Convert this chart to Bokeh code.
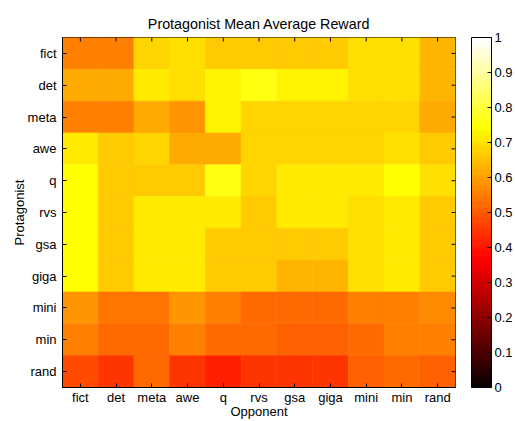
import math
from bokeh.plotting import figure
from bokeh.models import (ColumnDataSource, FactorRange, LinearColorMapper, ColorBar,
                          FixedTicker, CustomJSTickFormatter)
from bokeh.transform import dodge
from bokeh.embed import file_html
from bokeh.resources import INLINE

opponents = ["fict", "det", "meta", "awe", "q", "rvs", "gsa", "giga", "mini", "min", "rand"]
protagonists = ["fict", "det", "meta", "awe", "q", "rvs", "gsa", "giga", "mini", "min", "rand"]

# mean average reward, one list per protagonist (columns follow `opponents`)
reward_fict = [0.56, 0.55, 0.68, 0.69, 0.67, 0.67, 0.67, 0.67, 0.69, 0.69, 0.64]
reward_det  = [0.62, 0.62, 0.71, 0.69, 0.72, 0.75, 0.72, 0.72, 0.69, 0.69, 0.64]
reward_meta = [0.55, 0.55, 0.62, 0.58, 0.72, 0.68, 0.68, 0.68, 0.68, 0.68, 0.62]
reward_awe  = [0.71, 0.66, 0.68, 0.62, 0.61, 0.68, 0.68, 0.68, 0.68, 0.70, 0.67]
reward_q    = [0.74, 0.67, 0.67, 0.67, 0.75, 0.68, 0.71, 0.71, 0.71, 0.74, 0.69]
reward_rvs  = [0.74, 0.66, 0.71, 0.71, 0.71, 0.67, 0.71, 0.71, 0.69, 0.71, 0.67]
reward_gsa  = [0.74, 0.66, 0.71, 0.71, 0.66, 0.66, 0.66, 0.66, 0.69, 0.71, 0.67]
reward_giga = [0.74, 0.66, 0.71, 0.71, 0.66, 0.66, 0.63, 0.63, 0.69, 0.71, 0.66]
reward_mini = [0.59, 0.54, 0.54, 0.58, 0.55, 0.53, 0.53, 0.53, 0.55, 0.55, 0.57]
reward_min  = [0.55, 0.52, 0.52, 0.55, 0.53, 0.52, 0.51, 0.51, 0.52, 0.55, 0.55]
reward_rand = [0.48, 0.44, 0.52, 0.45, 0.42, 0.44, 0.45, 0.45, 0.51, 0.52, 0.50]

rows = [reward_fict, reward_det, reward_meta, reward_awe, reward_q, reward_rvs,
        reward_gsa, reward_giga, reward_mini, reward_min, reward_rand]

colorbar_ticks = [0, 0.1, 0.2, 0.3, 0.4, 0.5, 0.6, 0.7, 0.8, 0.9, 1]

# MATLAB "hot" colormap, 64 entries
def hot64():
    m = 64
    n = 24
    pal = []
    for i in range(1, m + 1):
        r = min(i / n, 1.0)
        g = min(max((i - n) / n, 0.0), 1.0)
        b = min(max((i - 2 * n) / (m - 2 * n), 0.0), 1.0)
        pal.append("#%02x%02x%02x" % (round(r * 255), round(g * 255), round(b * 255)))
    return pal

xs, ys, vals = [], [], []
for prot, row in zip(protagonists, rows):
    for opp, v in zip(opponents, row):
        xs.append(opp)
        ys.append(prot)
        vals.append(v)
src = ColumnDataSource(dict(opp=xs, pro=ys, val=vals))

mapper = LinearColorMapper(palette=hot64(), low=0, high=1)

FONT = "Liberation Sans"

p = figure(width=515, height=421,
           x_range=FactorRange(*opponents),
           y_range=FactorRange(*protagonists[::-1]),
           output_backend="svg", toolbar_location=None,
           title="Protagonist Mean Average Reward",
           min_border_left=62, min_border_top=37, min_border_bottom=30, min_border_right=59)
p.x_range.range_padding = 0
p.y_range.range_padding = 0

p.rect(x="opp", y="pro", width=1, height=1, source=src,
       fill_color={"field": "val", "transform": mapper},
       line_color={"field": "val", "transform": mapper}, line_width=0.6)

# inward box ticks on the top and right edges (MATLAB style)
top_src = ColumnDataSource(dict(x=opponents, y=[protagonists[0]] * len(opponents)))
right_src = ColumnDataSource(dict(x=[opponents[-1]] * len(protagonists), y=protagonists))
p.ray(x="x", y=dodge("y", 0.5, range=p.y_range), source=top_src,
      length=4, length_units="screen", angle=-math.pi / 2, line_color="black", line_width=1)
p.ray(x=dodge("x", 0.5, range=p.x_range), y="y", source=right_src,
      length=4, length_units="screen", angle=math.pi, line_color="black", line_width=1)

p.title.align = "center"
p.title.text_font = FONT
p.title.text_font_size = "14.3px"
p.title.text_font_style = "normal"
p.title.text_color = "black"
p.title.standoff = 11

p.grid.visible = False
p.outline_line_color = "black"
p.outline_line_width = 1
p.outline_line_alpha = 1

for ax in (p.xaxis[0], p.yaxis[0]):
    ax.major_tick_in = 4
    ax.major_tick_out = 0
    ax.major_tick_line_color = "black"
    ax.axis_line_color = "black"
    ax.major_label_text_font = FONT
    ax.major_label_text_font_size = "13px"
    ax.major_label_text_color = "black"
    ax.axis_label_text_font = FONT
    ax.axis_label_text_font_size = "13px"
    ax.axis_label_text_font_style = "normal"
    ax.axis_label_text_color = "black"

p.xaxis.axis_label = "Opponent"
p.yaxis.axis_label = "Protagonist"
p.xaxis.major_label_standoff = 2
p.xaxis.axis_label_standoff = -4
p.yaxis.major_label_standoff = 6
p.yaxis.axis_label_standoff = -2

cb = ColorBar(color_mapper=mapper,
              ticker=FixedTicker(ticks=colorbar_ticks),
              formatter=CustomJSTickFormatter(code="return String(Math.round(tick*10)/10);"),
              width=20, padding=0, margin=0, location=(16, 0),
              bar_line_color="black", bar_line_width=1,
              major_tick_line_color="black", major_tick_in=4, major_tick_out=0,
              minor_tick_line_color=None,
              major_label_text_font=FONT, major_label_text_font_size="13px",
              major_label_text_color="black", label_standoff=3,
              background_fill_color=None)
p.add_layout(cb, "right")

open("out.html", "w").write(file_html(p, INLINE))
